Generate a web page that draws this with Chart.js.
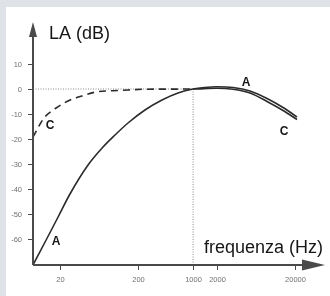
<!DOCTYPE html>
<html>
<head>
<meta charset="utf-8">
<script src="https://cdn.jsdelivr.net/npm/chart.js@4.4.1/dist/chart.umd.min.js"></script>
<style>
	html, body { margin: 0; padding: 0; background: #ffffff; }
	#wrap { width: 330px; height: 296px; position: relative; }
</style>
</head>
<body>
<div id="wrap"><canvas id="chart"></canvas></div>
<script>
// curve A (solid)
const freqA = [9.04, 13.3, 18.9, 26.8, 45.6, 70.8, 100.7, 147.6, 243, 401, 642, 1000, 1400, 2000, 3234, 5330, 8790, 14070, 21220];
const levelA = [-70.4, -60.4, -51.2, -42.0, -30.4, -23.2, -18.4, -13.6, -8.4, -4.4, -1.6, 0, 0.6, 0.9, 0.6, -0.8, -3.8, -7.4, -11.2];

// curve C (dashed up to 1000 Hz)
const freqC = [9.04, 12.5, 17.8, 26.1, 38.2, 57.6, 92.2, 147.6, 243, 1000, 2000, 3234, 5330, 8790, 14070, 21220];
const levelC = [-19.2, -11.6, -7.6, -4.6, -2.8, -1.2, -0.7, -0.4, -0.1, 0, 0.3, -0.1, -1.6, -5.0, -8.6, -12.2];

// axis ticks
const xTicks = [20, 200, 1000, 2000, 20000];
const yTicks = [10, 0, -10, -20, -30, -40, -50, -60];

// letters next to the curves: [text, freq, level]
const curveLabels = [
	["A", 4740, 2.6],
	["C", 14470, -17],
	["A", 17.8, -61],
	["C", 14.9, -14.8],
];

const refFreq = 1000;

function toPoints(xs, ys) {
	let out = [];
	xs.forEach((x, i) => {
		out.push({ x: x, y: ys[i] });
	});
	return out;
}

const ink = "#2b2b2b";
const axisColor = "#4a4a4a";

// background, axes, arrows, ticks and texts
const decorPlugin = {
	id: "decor",
	beforeDraw(chart) {
		const ctx = chart.ctx;
		ctx.save();
		ctx.fillStyle = "#dfe2e7";
		ctx.fillRect(0, 0, chart.width, chart.height);
		ctx.fillStyle = "#ffffff";
		ctx.fillRect(6, 7, chart.width - 6, chart.height - 7);
		ctx.restore();
	},
	beforeDatasetsDraw(chart) {
		const ctx = chart.ctx;
		const xs = chart.scales.x;
		const ys = chart.scales.y;
		const area = chart.chartArea;
		const x0 = xs.getPixelForValue(refFreq);
		const y0 = ys.getPixelForValue(0);
		ctx.save();
		ctx.strokeStyle = "#8a8a8a";
		ctx.lineWidth = 1;
		ctx.setLineDash([1, 1.5]);
		ctx.beginPath();
		ctx.moveTo(area.left, y0);
		ctx.lineTo(x0, y0);
		ctx.moveTo(x0, y0);
		ctx.lineTo(x0, area.bottom);
		ctx.stroke();
		ctx.restore();
	},
	afterDatasetsDraw(chart) {
		const ctx = chart.ctx;
		const xs = chart.scales.x;
		const ys = chart.scales.y;
		const area = chart.chartArea;
		ctx.save();

		// axis lines
		ctx.strokeStyle = axisColor;
		ctx.fillStyle = axisColor;
		ctx.lineWidth = 2;
		ctx.beginPath();
		ctx.moveTo(area.left, area.bottom);
		ctx.lineTo(area.left, area.top + 10);
		ctx.moveTo(area.left, area.bottom);
		ctx.lineTo(area.right - 18, area.bottom);
		ctx.stroke();

		// arrow heads
		ctx.beginPath();
		ctx.moveTo(area.left, area.top);
		ctx.lineTo(area.left + 4, area.top + 15);
		ctx.lineTo(area.left - 4, area.top + 15);
		ctx.closePath();
		ctx.fill();
		ctx.beginPath();
		ctx.moveTo(area.right, area.bottom);
		ctx.lineTo(area.right - 23, area.bottom - 5.5);
		ctx.lineTo(area.right - 23, area.bottom + 5.5);
		ctx.closePath();
		ctx.fill();

		// tick marks + labels
		ctx.lineWidth = 1;
		ctx.font = "7.5px 'Liberation Sans', Arial, sans-serif";
		ctx.fillStyle = "#707070";
		ctx.textBaseline = "middle";
		ctx.textAlign = "right";
		yTicks.forEach((v) => {
			const y = Math.round(ys.getPixelForValue(v)) + 0.5;
			ctx.beginPath();
			ctx.moveTo(area.left - 5, y);
			ctx.lineTo(area.left, y);
			ctx.stroke();
			ctx.fillText(String(v), area.left - 11, y);
		});
		ctx.textAlign = "center";
		xTicks.forEach((v) => {
			const x = Math.round(xs.getPixelForValue(v)) + 0.5;
			ctx.beginPath();
			ctx.moveTo(x, area.bottom);
			ctx.lineTo(x, area.bottom + 5);
			ctx.stroke();
			ctx.fillText(String(v), x, area.bottom + 15);
		});

		// axis titles
		ctx.fillStyle = "#161616";
		ctx.font = "18px 'Liberation Sans', Arial, sans-serif";
		ctx.textBaseline = "alphabetic";
		ctx.textAlign = "left";
		ctx.fillText("LA (dB)", area.left + 16, area.top + 17);
		ctx.textAlign = "right";
		ctx.fillText("frequenza (Hz)", area.right - 2, area.bottom - 12);

		// curve letters
		ctx.font = "bold 12px 'Liberation Sans', Arial, sans-serif";
		ctx.textAlign = "center";
		ctx.textBaseline = "middle";
		curveLabels.forEach((l) => {
			ctx.fillText(l[0], xs.getPixelForValue(l[1]), ys.getPixelForValue(l[2]));
		});
		ctx.restore();
	},
};

const config = {
	type: "line",
	data: {
		datasets: [
			{
				label: "A",
				data: toPoints(freqA, levelA),
				borderColor: ink,
				borderWidth: 1.6,
				pointRadius: 0,
				fill: false,
				cubicInterpolationMode: "monotone",
			},
			{
				label: "C",
				data: toPoints(freqC, levelC),
				borderColor: ink,
				borderWidth: 1.6,
				pointRadius: 0,
				fill: false,
				cubicInterpolationMode: "monotone",
				segment: {
					borderDash: (c) => (c.p1.parsed.x <= refFreq ? [7, 5] : []),
				},
			},
		],
	},
	options: {
		responsive: true,
		maintainAspectRatio: false,
		animation: false,
		layout: { padding: { left: 33, right: 5, top: 22, bottom: 31 } },
		plugins: { legend: { display: false }, tooltip: { enabled: false } },
		scales: {
			x: { type: "logarithmic", min: 9.04, max: 48300, display: false },
			y: { type: "linear", min: -70.4, max: 26.8, display: false },
		},
	},
	plugins: [decorPlugin],
};

new Chart(document.getElementById("chart"), config);
</script>
</body>
</html>
